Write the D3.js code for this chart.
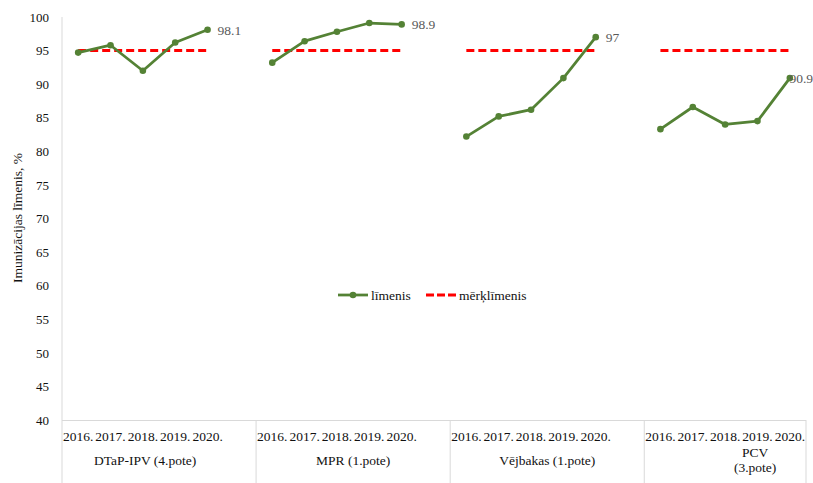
<!DOCTYPE html>
<html><head><meta charset="utf-8">
<script src="https://cdn.jsdelivr.net/npm/d3@7/dist/d3.min.js"></script>
<style>body{margin:0;background:#fff}svg{display:block}svg text{font-family:'Liberation Serif','Times New Roman',serif !important}</style>
</head><body><svg id="c" width="813" height="483" style="font-family:'Liberation Serif',serif"></svg>
<script>
const years = ["2016.","2017.","2018.","2019.","2020."];
const groups = ["DTaP-IPV (4.pote)","MPR (1.pote)","Vējbakas (1.pote)","PCV\n(3.pote)"];
const limenis = [
  [94.7, 95.8, 92.0, 96.2, 98.1],
  [93.2, 96.4, 97.8, 99.1, 98.9],
  [82.2, 85.2, 86.2, 90.9, 97.0],
  [83.3, 86.6, 84.0, 84.5, 90.9]
];
const merkLimenis = [95, 95, 95, 95, 95];
const lastLabels = ["98.1","98.9","97","90.9"];
const yTicks = [40,45,50,55,60,65,70,75,80,85,90,95,100];
const seriesNames = ["līmenis","mērķlīmenis"];

const FONT = "'Liberation Serif', serif";
const svg = d3.select("#c");
const L = 62, R = 806, T = 17, B = 420;
const green = "#548235", red = "#FF0000", grey = "#D9D9D9";

const slots = [];
groups.forEach((g, gi) => {
  years.forEach((yr, yi) => slots.push(`${gi}-${yi}`));
  if (gi < groups.length - 1) slots.push(`${gi}-blank`);
});
const x = d3.scaleBand().domain(slots).range([L, R]).padding(0);
const y = d3.scaleLinear().domain([40, 100]).range([B, T]);
const cx = k => x(k) + x.bandwidth() / 2;

svg.append("line").attr("x1", L).attr("x2", L).attr("y1", T).attr("y2", B).attr("stroke", grey);
svg.append("line").attr("x1", L).attr("x2", R).attr("y1", B + 0.5).attr("y2", B + 0.5).attr("stroke", grey);

const ya = svg.append("g").attr("transform", `translate(${L},0)`)
  .call(d3.axisLeft(y).tickValues(yTicks).tickSize(0).tickPadding(13));
ya.attr("font-family", FONT);
ya.select(".domain").remove();
ya.selectAll("text").style("font-family", FONT).attr("font-size", 13).attr("fill", "#111");

function txt(xp, yp, s, opts = {}) {
  return svg.append("text").attr("x", xp).attr("y", yp)
    .attr("text-anchor", opts.anchor || "start")
    .style("font-family", FONT).attr("font-size", opts.size || 13.5)
    .attr("fill", opts.fill || "#111").text(s);
}

svg.append("text").attr("transform", "translate(22,218) rotate(-90)")
  .attr("text-anchor", "middle").style("font-family", FONT).attr("font-size", 13.5).attr("fill", "#111")
  .text("Imunizācijas līmenis, %");

const groupEdges = groups.map((g, gi) => {
  const first = x(`${gi}-0`);
  const lastKey = gi < groups.length - 1 ? `${gi}-blank` : `${gi}-4`;
  return [first, x(lastKey) + x.bandwidth()];
});
groupEdges.forEach(([a, b], gi) => {
  if (gi === 0) svg.append("line").attr("x1", a).attr("x2", a).attr("y1", B).attr("y2", 483).attr("stroke", grey);
  svg.append("line").attr("x1", b).attr("x2", b).attr("y1", B).attr("y2", 483).attr("stroke", grey);
});

groups.forEach((g, gi) => {
  years.forEach((yr, yi) => txt(cx(`${gi}-${yi}`), 441, yr, {anchor: "middle"}));
});
const groupDx = [-14, 0, 0, 30];
groups.forEach((g, gi) => {
  const [a, b] = groupEdges[gi];
  const lines = g.split("\n");
  const startY = lines.length > 1 ? 457 : 465;
  lines.forEach((ln, li) => txt((a + b) / 2 + groupDx[gi], startY + li * 15, ln, {anchor: "middle"}));
});

const line = d3.line().x(d => d[0]).y(d => d[1]);
groups.forEach((g, gi) => {
  const tgt = merkLimenis.map((v, yi) => [cx(`${gi}-${yi}`), y(v)]);
  svg.append("path").attr("d", line(tgt)).attr("fill", "none").attr("stroke", red)
    .attr("stroke-width", 3).attr("stroke-dasharray", "8,4");
  const pts = limenis[gi].map((v, yi) => [cx(`${gi}-${yi}`), y(v)]);
  svg.append("path").attr("d", line(pts)).attr("fill", "none").attr("stroke", green)
    .attr("stroke-width", 2.75).attr("stroke-linejoin", "round");
  svg.selectAll(null).data(pts).enter().append("circle")
    .attr("cx", d => d[0]).attr("cy", d => d[1]).attr("r", 3.3).attr("fill", green);
  const lp = pts[pts.length - 1];
  const t = txt(0, lp[1] + 5, lastLabels[gi], {fill: "#595959"});
  const w = t.node().getComputedTextLength();
  t.attr("x", Math.min(lp[0] + 10, 813 - w));
});

svg.append("line").attr("x1", 338).attr("x2", 368).attr("y1", 295).attr("y2", 295).attr("stroke", green).attr("stroke-width", 2.75);
svg.append("circle").attr("cx", 353).attr("cy", 295).attr("r", 3.3).attr("fill", green);
txt(371, 300, seriesNames[0]);
svg.append("line").attr("x1", 426).attr("x2", 456).attr("y1", 295).attr("y2", 295).attr("stroke", red).attr("stroke-width", 3).attr("stroke-dasharray", "8,3");
txt(459, 300, seriesNames[1]);
</script></body></html>
